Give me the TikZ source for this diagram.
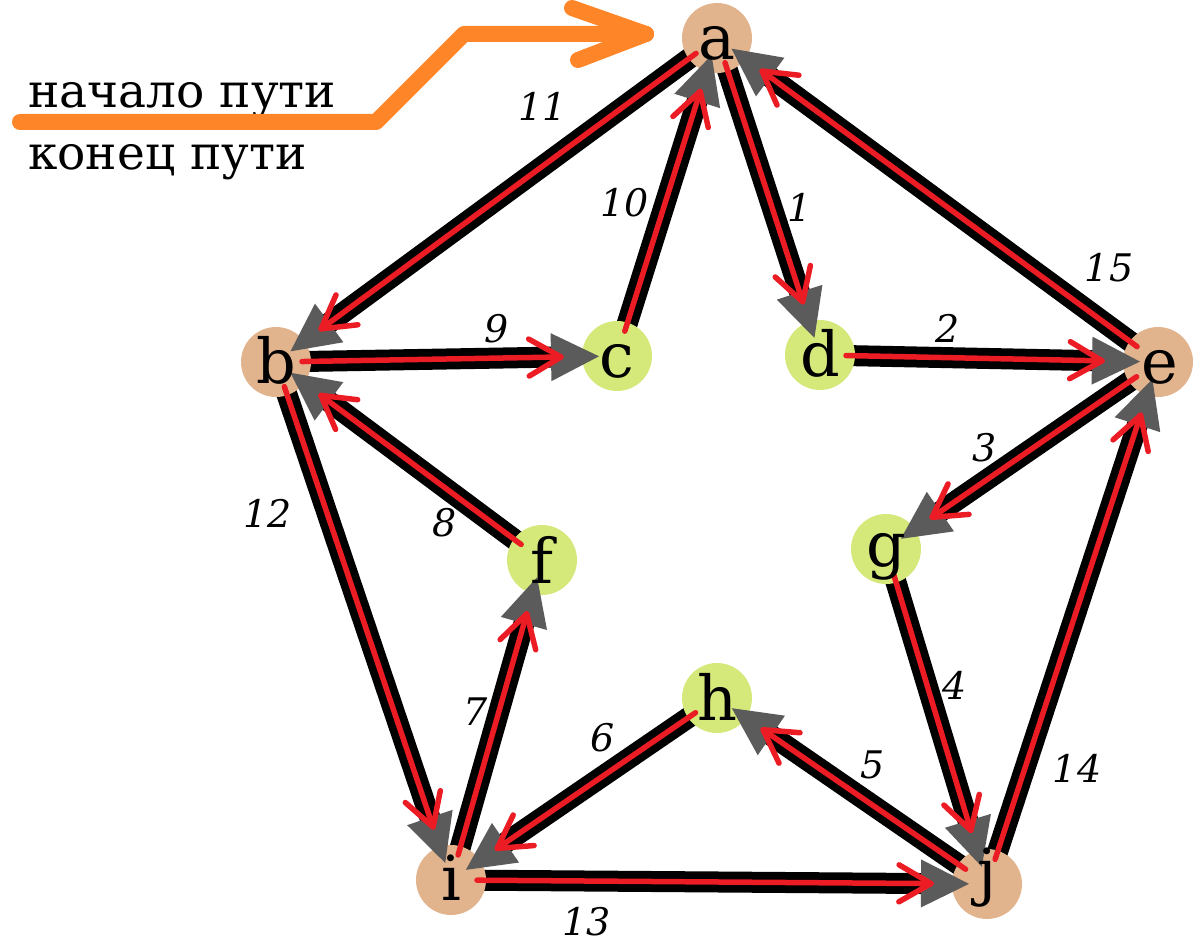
\documentclass[tikz,border=0pt]{standalone}
\usepackage{fontspec}
\setmainfont{DejaVu Serif}
\usetikzlibrary{calc}
\definecolor{tanc}{HTML}{E2B48E}
\definecolor{grnc}{HTML}{D5E97B}
\definecolor{grayc}{HTML}{5B5B5B}
\definecolor{redc}{HTML}{EC1C24}
\definecolor{orgc}{HTML}{FF8628}
\pgfdeclarelayer{bg}
\pgfdeclarelayer{fg}
\pgfsetlayers{bg,main,fg}
\begin{document}
\begin{tikzpicture}[x=1pt,y=-1pt,
  vtx/.style={circle, minimum size=70pt, inner sep=0pt, draw=none},
  tanv/.style={vtx, fill=tanc},
  grnv/.style={vtx, fill=grnc},
  lett/.style={font=\fontsize{62}{62}\selectfont, inner sep=0pt, anchor=base},
  elab/.style={font=\itshape\fontsize{38}{38}\selectfont, inner sep=0pt},
  rus/.style={font=\fontsize{47}{47}\selectfont, inner sep=0pt, anchor=base west},
  blk/.style={line width=21pt, black},
  redl/.style={line width=5.5pt, redc, line cap=round, line join=round},
  orgl/.style={line width=16pt, orgc, line cap=round, line join=round}]
\useasboundingbox (0,0) rectangle (1200,949);
% vertices
\node[tanv] (a) at (717,38) {};
\node[tanv] (b) at (276,362) {};
\node[grnv] (c) at (617,356) {};
\node[grnv] (d) at (820,355) {};
\node[tanv] (e) at (1158,362) {};
\node[grnv] (f) at (542,560) {};
\node[grnv] (g) at (886,549) {};
\node[grnv] (h) at (717,698) {};
\node[tanv] (i) at (451,880) {};
\node[tanv] (j) at (987,884) {};
% black lines
\begin{pgfonlayer}{bg}
\foreach \s/\t in {a/d,d/e,e/g,g/j,j/h,h/i,i/f,f/b,b/c,c/a,a/b,b/i,i/j,j/e,e/a}{
  \draw[blk] (\s.center) -- ($(\t.center)!52pt!(\s.center)$);
}
\end{pgfonlayer}
% arrowheads and red lines
\foreach \s/\t in {a/d,d/e,e/g,g/j,j/h,h/i,i/f,f/b,b/c,c/a,a/b,b/i,i/j,j/e,e/a}{
  \coordinate (tp) at ($(\t.center)!18pt!(\s.center)$);
  \coordinate (bm) at ($(\t.center)!66pt!(\s.center)$);
  \coordinate (rt) at ($(\t.center)!56pt!(\s.center)$);
  \coordinate (rs) at ($(\s.center)!26pt!(\t.center)$);
  \fill[grayc] (tp) -- ($(bm)!24pt!90:(tp)$) -- ($(bm)!24pt!-90:(tp)$) -- cycle;
  \draw[redl] (rs) -- (rt);
  \draw[redl] ($(rt)!37pt!30:(\s.center)$) -- (rt) -- ($(rt)!37pt!-30:(\s.center)$);
}
% letters
\begin{pgfonlayer}{fg}
\node[lett] (la) at (717,60) {a};
\node[lett] (lb) at (276,384) {b};
\node[lett] (lc) at (617,378) {c};
\node[lett] (ld) at (820,377) {d};
\node[lett] (le) at (1160,384) {e};
\node[lett] (lf) at (542,583) {f};
\node[lett] (lg) at (886,566) {g};
\node[lett] (lh) at (717,720) {h};
\node[lett] (li) at (451,900) {i};
\node[lett] (lj) at (987,893) {j};
\end{pgfonlayer}
% edge labels
\node[elab] (n1) at (800,207) {1};
\node[elab] (n2) at (948,328) {2};
\node[elab] (n3) at (985,448) {3};
\node[elab] (n4) at (955,685) {4};
\node[elab] (n5) at (873,765) {5};
\node[elab] (n6) at (603,738) {6};
\node[elab] (n7) at (476,712) {7};
\node[elab] (n8) at (445,523) {8};
\node[elab] (n9) at (497,329) {9};
\node[elab] (n10) at (625,203) {10};
\node[elab] (n11) at (543,106) {11};
\node[elab] (n12) at (268,513) {12};
\node[elab] (n13) at (587,922) {13};
\node[elab] (n14) at (1077,768) {14};
\node[elab] (n15) at (1109,268) {15};
% texts
\node[rus] (t1) at (28,108) {начало пути};
\node[rus] (t2) at (28,170) {конец пути};
% orange arrow
\coordinate (o1) at (20,122);
\coordinate (o2) at (376,122);
\coordinate (o3) at (464,34);
\coordinate (o4) at (646,34);
\coordinate (o5) at (572,8);
\coordinate (o6) at (578,60);
\draw[orgl] (o1) -- (o2) -- (o3) -- (o4);
\draw[orgl] (o5) -- (o4) -- (o6);
\end{tikzpicture}
\end{document}
